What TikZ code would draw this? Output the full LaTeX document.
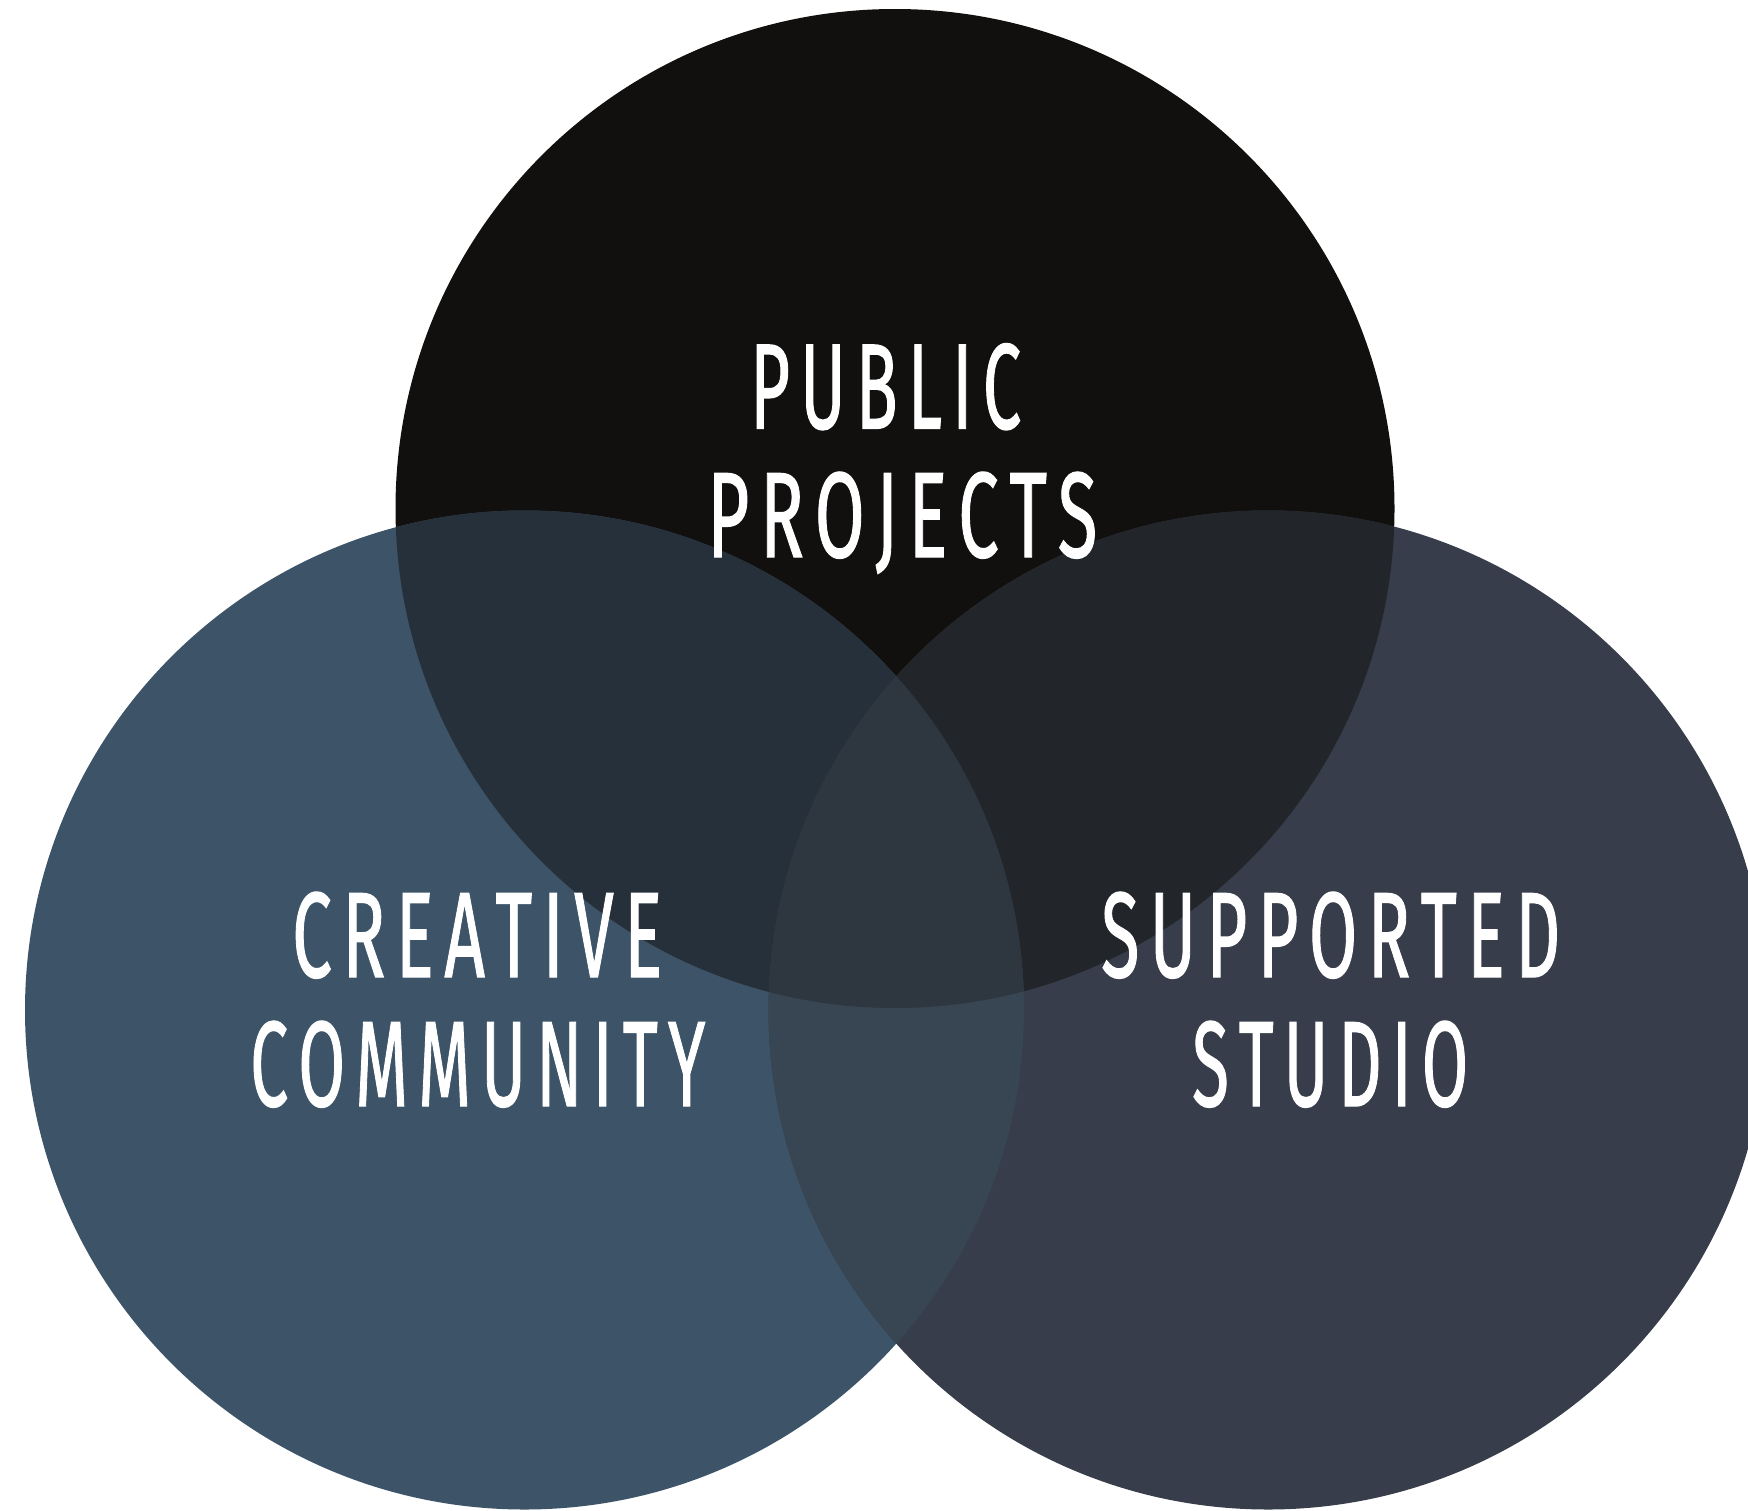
\documentclass[tikz,border=0pt]{standalone}
\usepackage{fontspec}
\usepackage{graphicx}
\newfontfamily\lab[FakeBold=1.2]{Fira Sans}
\definecolor{ctop}{HTML}{11100E}
\definecolor{cleft}{HTML}{3D5468}
\definecolor{cright}{HTML}{373D4A}
\definecolor{ctl}{HTML}{26303A}
\definecolor{ctr}{HTML}{22252A}
\definecolor{clr}{HTML}{384553}
\definecolor{call}{HTML}{2E3640}
\newcommand\trkamt{0.15em}
\ExplSyntaxOn
\NewDocumentCommand\trk{m}{
  \bool_set_true:N \l_tmpa_bool
  \tl_map_inline:nn {#1} {
    \bool_if:NF \l_tmpa_bool { \kern\trkamt }
    \bool_set_false:N \l_tmpa_bool
    ##1
  }
}
\ExplSyntaxOff
\newcommand\lbx[3]{\resizebox{#1pt}{#2pt}{\trk{#3}}}
\tikzset{lbl/.style={anchor=base west, inner sep=0pt, text=white, font=\lab}}
\begin{document}
\begin{tikzpicture}[x=1pt,y=-1pt]
\path[use as bounding box] (0,0) rectangle (1748,1510);
\clip (0,0) rectangle (1748,1510);
\def\R{499.5}
\coordinate (T) at (895,508.5);
\coordinate (L) at (524.5,1010);
\coordinate (Rc) at (1268,1010);
\fill[ctop] (T) circle[radius=\R];
\fill[cleft] (L) circle[radius=\R];
\fill[cright] (Rc) circle[radius=\R];
\begin{scope}
  \clip (L) circle[radius=\R];
  \fill[ctl] (T) circle[radius=\R];
\end{scope}
\begin{scope}
  \clip (Rc) circle[radius=\R];
  \fill[ctr] (T) circle[radius=\R];
\end{scope}
\begin{scope}
  \clip (L) circle[radius=\R];
  \fill[clr] (Rc) circle[radius=\R];
\end{scope}
\begin{scope}
  \clip (L) circle[radius=\R];
  \clip (T) circle[radius=\R];
  \fill[call] (Rc) circle[radius=\R];
\end{scope}
\node[lbl] (pub) at (750,428.5) {\lbx{271}{85}{PUBLIC}};
\node[lbl] (proj) at (707,557) {\lbx{390}{85}{PROJECTS}};
\node[lbl] (crea) at (292,977) {\lbx{370}{85}{CREATIVE}};
\node[lbl] (comm) at (250,1106) {\lbx{455}{85}{COMMUNITY}};
\node[lbl] (supp) at (1101,977) {\lbx{459}{85}{SUPPORTED}};
\node[lbl] (stud) at (1192,1106) {\lbx{276}{85}{STUDIO}};
\end{tikzpicture}
\end{document}
